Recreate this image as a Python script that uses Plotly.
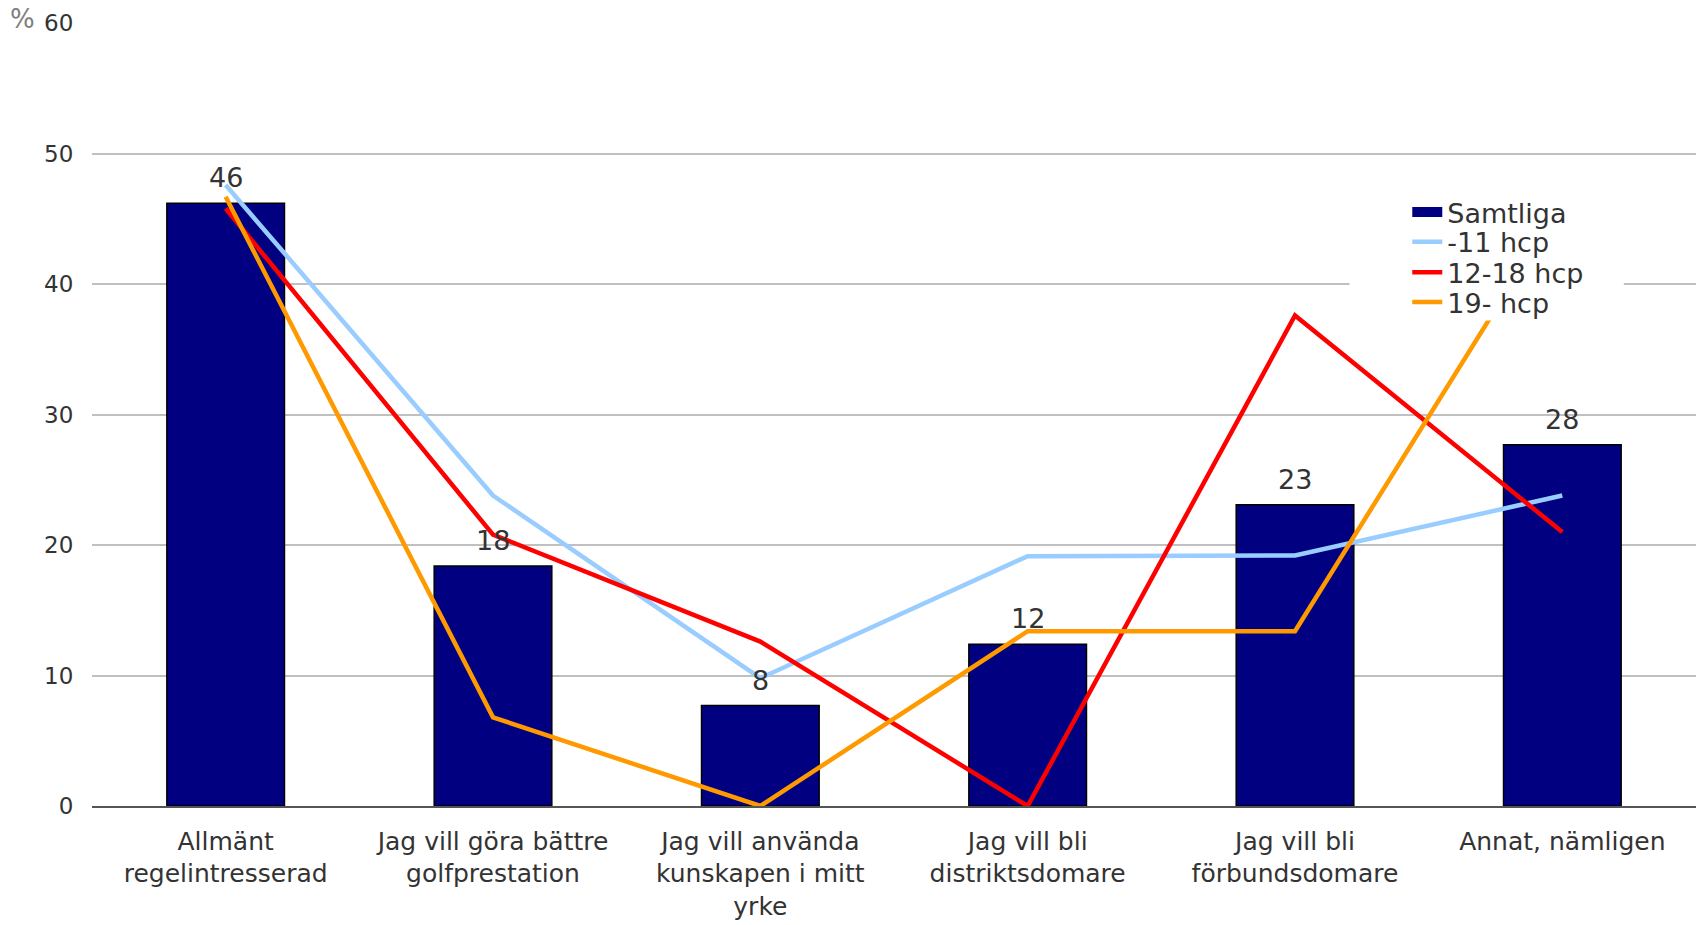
import plotly.graph_objects as go

categories = [
    "Allmänt<br>regelintresserad",
    "Jag vill göra bättre<br>golfprestation",
    "Jag vill använda<br>kunskapen i mitt<br>yrke",
    "Jag vill bli<br>distriktsdomare",
    "Jag vill bli<br>förbundsdomare",
    "Annat, nämligen",
]
samtliga = [46.2, 18.4, 7.7, 12.4, 23.1, 27.7]
hcp_11 = [47.6, 23.8, 9.8, 19.15, 19.2, 23.8]
hcp_12_18 = [45.8, 20.8, 12.6, 0.0, 37.6, 21.0]
hcp_19 = [46.7, 6.8, 0.0, 13.4, 13.4, 46.3]

series_names = ["Samtliga", "-11 hcp", "12-18 hcp", "19- hcp"]
y_ticks = [0, 10, 20, 30, 40, 50, 60]

FONT = "DejaVu Sans"
legend_ids = ["legend", "legend2", "legend3", "legend4"]
legend_y = [0.758, 0.720, 0.681, 0.643]

fig = go.Figure()
fig.add_trace(go.Bar(
    x=categories, y=samtliga, name=series_names[0],
    marker=dict(color="#000080", line=dict(color="#000000", width=1.5)),
    width=0.44, showlegend=False,
))
# legend-only entry for the bar series (wide rectangle look)
fig.add_trace(go.Scatter(
    x=[None], y=[None], mode="lines", name=series_names[0],
    line=dict(color="#000080", width=14), legend=legend_ids[0],
))
line_colors = ["#99CCFF", "#FF0000", "#FF9900"]
for name, vals, col, lg in zip(series_names[1:], [hcp_11, hcp_12_18, hcp_19], line_colors, legend_ids[1:]):
    fig.add_trace(go.Scatter(
        x=categories, y=vals, name=name, mode="lines",
        line=dict(color=col, width=4.5),
        cliponaxis=False, legend=lg,
    ))

annotations = [dict(
    text="%", xref="paper", yref="paper", x=-0.0436, y=1.005,
    xanchor="center", yanchor="middle", showarrow=False,
    font=dict(family=FONT, size=26, color="#808080"),
)]
for cat, v in zip(categories, samtliga):
    annotations.append(dict(
        x=cat, y=v, xref="x", yref="y", text=f"{v:.0f}", showarrow=False,
        xanchor="center", yanchor="bottom", yshift=8,
        font=dict(family=FONT, size=27, color="#333333"),
    ))

legend_layouts = {}
for lg, ly in zip(legend_ids, legend_y):
    legend_layouts[lg] = dict(
        x=0.820, y=ly, xanchor="left", yanchor="middle",
        bgcolor="rgba(0,0,0,0)", borderwidth=0,
        font=dict(family=FONT, size=27, color="#333333"),
        tracegroupgap=0,
    )

fig.update_layout(
    width=1696, height=925,
    margin=dict(l=92, r=0, t=23, b=119, autoexpand=False),
    paper_bgcolor="white", plot_bgcolor="white",
    font=dict(family=FONT, color="#333333"),
    bargap=0.56,
    showlegend=True,
    annotations=annotations,
    shapes=[dict(
        type="rect", xref="paper", yref="paper", x0=0.784, x1=0.955, y0=0.62, y1=0.80,
        fillcolor="white", line=dict(width=0), layer="above",
    )],
    **legend_layouts,
)
fig.update_xaxes(
    showgrid=False, showline=True, linecolor="#555555", linewidth=1.5,
    ticks="outside", ticklen=12, tickcolor="rgba(0,0,0,0)",
    tickfont=dict(family=FONT, size=25, color="#333333"),
    tickangle=0, automargin=False,
)
fig.update_yaxes(
    range=[0, 60.02], tickvals=y_ticks, showgrid=True, gridcolor="#C0C0C0", gridwidth=1.5,
    zeroline=False, showline=False,
    ticks="outside", ticklen=13, tickcolor="rgba(0,0,0,0)",
    tickfont=dict(family=FONT, size=23, color="#333333"),
    automargin=False,
)

fig.write_html(
    "out.html",
    config={"displayModeBar": False},
    post_script="document.body.style.margin='0';document.body.style.overflow='hidden';",
)
